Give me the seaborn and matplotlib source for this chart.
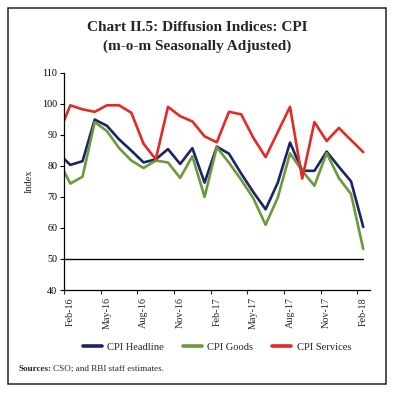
import pandas as pd
import numpy as np
import matplotlib
matplotlib.use("Agg")
import matplotlib.pyplot as plt
import seaborn as sns
from matplotlib.patches import Rectangle

sns.set_style("white")
plt.rcParams['font.family'] = ['Liberation Serif', 'DejaVu Serif']

# monthly diffusion indices, Jan-16 to Feb-18
months = ["Jan-16", "Feb-16", "Mar-16", "Apr-16", "May-16", "Jun-16", "Jul-16", "Aug-16",
          "Sep-16", "Oct-16", "Nov-16", "Dec-16", "Jan-17", "Feb-17", "Mar-17", "Apr-17",
          "May-17", "Jun-17", "Jul-17", "Aug-17", "Sep-17", "Oct-17", "Nov-17", "Dec-17",
          "Jan-18", "Feb-18"]
headline = [84.1, 80.3, 81.5, 94.9, 92.9, 88.5, 84.9, 81.1, 82.1, 85.4, 80.6, 85.7, 74.6,
            86.2, 83.9, 77.5, 71.5, 66.0, 74.6, 87.5, 78.4, 78.4, 84.6, 79.7, 75.0, 60.3]
goods = [81.9, 74.3, 76.5, 94.1, 91.2, 85.7, 81.7, 79.3, 81.7, 81.1, 76.1, 83.1, 70.0,
         86.0, 81.0, 75.5, 69.5, 61.0, 69.8, 84.0, 78.4, 73.6, 84.1, 76.1, 70.9, 53.2]
services = [89.9, 99.5, 98.2, 97.4, 99.5, 99.5, 97.1, 87.1, 82.1, 99.0, 96.0, 94.3, 89.5,
            87.6, 97.4, 96.6, 89.0, 82.8, 90.9, 99.0, 75.9, 94.1, 88.0, 92.2, 88.3, 84.4]
threshold = 50

series = {"CPI Headline": headline, "CPI Goods": goods, "CPI Services": services}
colors = {"CPI Headline": "#1c2366", "CPI Goods": "#6b9a3b", "CPI Services": "#e12b24"}

rows = []
for name, vals in series.items():
    for i, v in enumerate(vals):
        rows.append({"pos": i, "Month": months[i], "Series": name, "Value": v})
df = pd.DataFrame(rows)

fig = plt.figure(figsize=(3.94, 3.93), dpi=100)
ax = fig.add_axes([0.163, 0.262, 0.776, 0.553])

# threshold line at 50
ax.plot(range(len(months)), [threshold] * len(months), color="black", lw=1.0, zorder=1)

sns.lineplot(data=df, x="pos", y="Value", hue="Series", palette=colors,
             hue_order=list(series.keys()), lw=1.9, ax=ax, legend=False, zorder=2)

ax.set_xlim(0.5, 25.55)
ax.set_ylim(40, 110)
ax.set_yticks(range(40, 111, 10))
ax.tick_params(axis="y", labelsize=7.3, length=3, width=0.8, direction="out",
               colors="black", pad=2, left=True)

label_pos = list(range(1, len(months), 3))
ax.set_xticks(label_pos)
ax.set_xticklabels([months[i] for i in label_pos], rotation=90, fontsize=7.3)
ax.set_xticks([p - 0.5 for p in label_pos], minor=True)
ax.tick_params(axis="x", which="major", length=0, pad=5)
ax.tick_params(axis="x", which="minor", length=3, width=0.8, direction="out", bottom=True)

ax.set_xlabel("")
ax.set_ylabel("Index", fontsize=7.5, labelpad=6)
for s in ["top", "right"]:
    ax.spines[s].set_visible(False)
for s in ["left", "bottom"]:
    ax.spines[s].set_color("black")
    ax.spines[s].set_linewidth(0.9)

handles = [plt.Line2D([0], [0], color=colors[n], lw=2.6) for n in series]
fig.legend(handles, list(series.keys()), loc="center", bbox_to_anchor=(0.551, 0.117),
           ncol=3, frameon=False, fontsize=7.6, handlelength=1.8, handletextpad=0.5,
           columnspacing=1.8)

fig.text(0.5, 0.930, "Chart II.5: Diffusion Indices: CPI", ha="center", va="center",
         fontsize=11, fontweight="bold")
fig.text(0.5, 0.882, "(m-o-m Seasonally Adjusted)", ha="center", va="center",
         fontsize=11, fontweight="bold")

t1 = fig.text(0.048, 0.061, "Sources:", ha="left", va="center", fontsize=6.6, fontweight="bold")
fig.canvas.draw()
bb = t1.get_window_extent().transformed(fig.transFigure.inverted())
fig.text(bb.x1 + 0.004, 0.061, "CSO; and RBI staff estimates.", ha="left", va="center",
         fontsize=6.6)

fig.patches.append(Rectangle((0.021, 0.023), 0.958, 0.957, transform=fig.transFigure,
                             fill=False, edgecolor="#222222", lw=1.1))

fig.savefig("out.png", dpi=100)
